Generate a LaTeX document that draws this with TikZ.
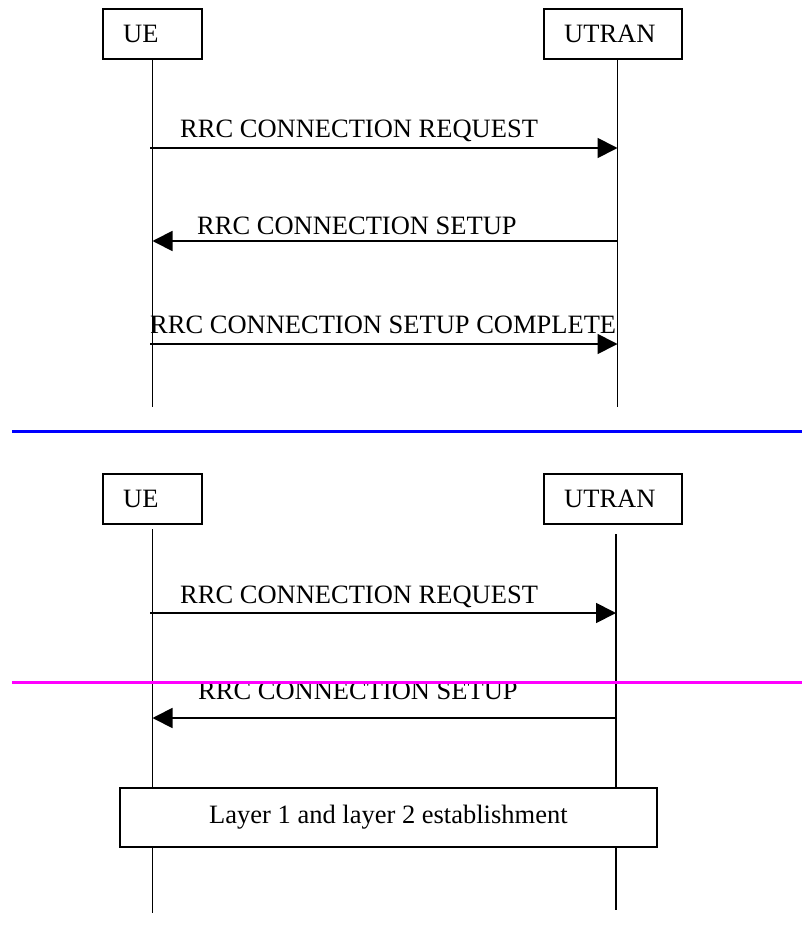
\documentclass[tikz,border=0pt]{standalone}
\usepackage{fontspec}
\setmainfont{Liberation Serif}
\usetikzlibrary{arrows.meta}
\begin{document}
\begin{tikzpicture}[x=1pt,y=-1pt,
  every node/.style={font=\fontsize{26.5}{30}\selectfont, inner sep=0pt},
  entbox/.style={draw, line width=1.8pt, fill=white, anchor=north west},
  life/.style={line width=1.8pt},
  msg/.style={line width=1.8pt, -{Triangle[length=20pt,width=20pt]}},
  lbl/.style={anchor=base west},
  sep/.style={line width=2.2pt}]
\useasboundingbox (0,0) rectangle (802,931);

% ---------- top diagram ----------
\node[entbox, minimum width=99pt, minimum height=50pt] (ue1) at (102,8) {};
\node[lbl] (ue1t) at (123,43) {UE};
\node[entbox, minimum width=138pt, minimum height=50pt] (ut1) at (543,8) {};
\node[lbl] (ut1t) at (564,43) {UTRAN};
\coordinate (ue1e) at (152.5,407);
\coordinate (ut1e) at (617.5,407);
\draw[life] (ue1.south -| ue1e) -- (ue1e);
\draw[life] (ut1.south -| ut1e) -- (ut1e);

\coordinate (m1a) at (150,148); \coordinate (m1b) at (617.5,148);
\draw[msg] (m1a) -- (m1b);
\node[lbl] (m1t) at (180,138) {RRC CONNECTION REQUEST};

\coordinate (m2a) at (617.5,241); \coordinate (m2b) at (152.5,241);
\draw[msg] (m2a) -- (m2b);
\node[lbl] (m2t) at (197,234) {RRC CONNECTION SETUP};

\coordinate (m3a) at (150,344); \coordinate (m3b) at (617.5,344);
\draw[msg] (m3a) -- (m3b);
\node[lbl] (m3t) at (150,333) {RRC CONNECTION SETUP COMPLETE};

% separator
\coordinate (s1a) at (12,431.5); \coordinate (s1b) at (802,431.5);
\draw[sep, color={rgb,255:red,0;green,0;blue,255}] (s1a) -- (s1b);

% ---------- bottom diagram ----------
\node[entbox, minimum width=99pt, minimum height=50pt] (ue2) at (102,473) {};
\node[lbl] (ue2t) at (123,507.5) {UE};
\node[entbox, minimum width=138pt, minimum height=50pt] (ut2) at (543,473) {};
\node[lbl] (ut2t) at (564,507.5) {UTRAN};
\coordinate (ue2s) at (152.5,529); \coordinate (ue2e) at (152.5,913);
\coordinate (ut2s) at (616,534); \coordinate (ut2e) at (616,910);
\draw[life] (ue2s) -- (ue2e);
\draw[life] (ut2s) -- (ut2e);

\coordinate (n1a) at (150,613); \coordinate (n1b) at (616,613);
\draw[msg] (n1a) -- (n1b);
\node[lbl] (n1t) at (180,603) {RRC CONNECTION REQUEST};

\coordinate (n2a) at (616,718); \coordinate (n2b) at (152.5,718);
\draw[msg] (n2a) -- (n2b);
\node[lbl] (n2t) at (198,699) {RRC CONNECTION SETUP};

\node[entbox, minimum width=537pt, minimum height=59pt] (l12) at (119,787) {};
\node (l12t) at (l12.center) {Layer 1 and layer 2 establishment};

\coordinate (s2a) at (12,682.5); \coordinate (s2b) at (802,682.5);
\draw[sep, color={rgb,255:red,255;green,0;blue,255}] (s2a) -- (s2b);
\end{tikzpicture}
\end{document}
